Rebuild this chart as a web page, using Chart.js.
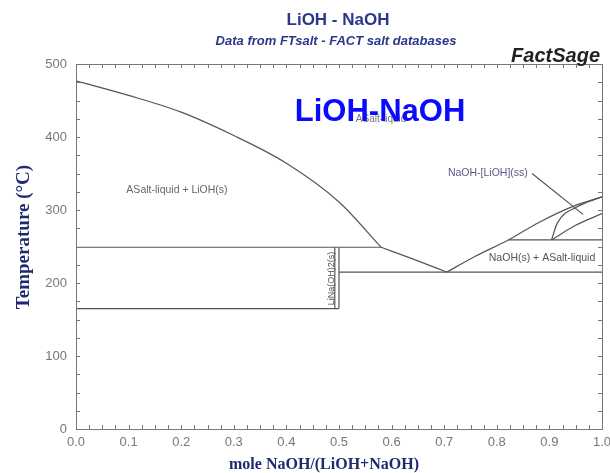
<!DOCTYPE html>
<html>
<head>
<meta charset="utf-8">
<script src="https://cdn.jsdelivr.net/npm/chart.js@4.4.1/dist/chart.umd.min.js"></script>
<style>
  body { margin: 0; background: #fff; }
  canvas { display: block; }
</style>
</head>
<body>
<canvas id="phase-chart" width="610" height="473"></canvas>
<script>
// mole fraction NaOH / temperature (C)
const liqLiOH_x = [0, 0.1, 0.2, 0.3, 0.4, 0.5, 0.58];
const liqLiOH_t = [477, 457, 434, 402, 364, 311, 249];

const liqCompound_x = [0.58, 0.64, 0.705];
const liqCompound_t = [249, 233, 215];

const liqNaOH_x = [0.705, 0.76, 0.822, 0.88, 0.945, 1.0];
const liqNaOH_t = [215, 237, 259, 283, 305, 318];

const solidus_x = [0.904, 0.915, 0.952, 1.0];
const solidus_t = [259, 282, 304, 318];

const solvus_x = [0.904, 0.95, 1.0];
const solvus_t = [259, 279, 295];

const peritectic_x = [0, 0.58];
const peritectic_t = [249, 249];

const lowLine_x = [0, 0.5];
const lowLine_t = [165, 165];

const eutectic_x = [0.5, 1.0];
const eutectic_t = [215, 215];

const ssLine_x = [0.822, 1.0];
const ssLine_t = [259, 259];

const compoundL_x = [0.492, 0.492];
const compoundR_x = [0.5, 0.5];
const compound_t = [165, 249];

const leader_x = [0.867, 0.964];
const leader_t = [350, 294];

const xTicks = ['0.0', '0.1', '0.2', '0.3', '0.4', '0.5', '0.6', '0.7', '0.8', '0.9', '1.0'];
const yTicks = ['0', '100', '200', '300', '400', '500'];

const pts = (xs, ts) => xs.map((v, i) => ({ x: v, y: ts[i] }));

const line = (xs, ts, curve) => ({
  data: pts(xs, ts),
  showLine: true,
  borderColor: '#555',
  borderWidth: 1.2,
  pointRadius: 0,
  cubicInterpolationMode: curve ? 'monotone' : 'default',
  tension: curve ? 0.4 : 0,
});

const frame = {
  id: 'frame',
  afterDatasetsDraw(chart) {
    const { ctx, chartArea: { left, right, top, bottom }, scales: { x, y } } = chart;
    ctx.save();
    ctx.strokeStyle = '#777';
    ctx.lineWidth = 1;
    ctx.strokeRect(Math.round(left) + 0.5, Math.round(top) + 0.5, Math.round(right - left), Math.round(bottom - top));
    ctx.beginPath();
    x.ticks.forEach((t) => {
      const px = Math.round(x.getPixelForValue(t.value)) + 0.5;
      ctx.moveTo(px, bottom); ctx.lineTo(px, bottom - 4);
      ctx.moveTo(px, top); ctx.lineTo(px, top + 4);
    });
    y.ticks.forEach((t) => {
      const py = Math.round(y.getPixelForValue(t.value)) + 0.5;
      ctx.moveTo(left, py); ctx.lineTo(left + 4, py);
      ctx.moveTo(right, py); ctx.lineTo(right - 4, py);
    });
    ctx.stroke();
    ctx.restore();
  }
};

const texts = {
  id: 'texts',
  afterDraw(chart) {
    const { ctx, scales: { x, y } } = chart;
    const put = (str, px, py, font, color, align) => {
      ctx.font = font;
      ctx.fillStyle = color;
      ctx.textAlign = align || 'center';
      ctx.textBaseline = 'middle';
      ctx.fillText(str, px, py);
    };
    ctx.save();
    put('LiOH - NaOH', 338, 20, 'bold 17px "Liberation Sans", Arial, sans-serif', '#2b3888');
    put('Data from FTsalt - FACT salt databases', 336, 41, 'italic bold 13px "Liberation Sans", Arial, sans-serif', '#2b3888');
    put('FactSage', 600, 56, 'italic bold 20px "Liberation Sans", Arial, sans-serif', '#222', 'right');

    put('ASalt-liquid', x.getPixelForValue(0.58), y.getPixelForValue(424), '10px "Liberation Sans", Arial, sans-serif', '#777');
    put('LiOH-NaOH', x.getPixelForValue(0.578), y.getPixelForValue(433), 'bold 31px "Liberation Sans", Arial, sans-serif', '#0a0aff');

    const small = '10.5px "Liberation Sans", Arial, sans-serif';
    put('ASalt-liquid + LiOH(s)', x.getPixelForValue(0.192), y.getPixelForValue(327), small, '#666');
    put('NaOH-[LiOH](ss)', x.getPixelForValue(0.783), y.getPixelForValue(350), small, '#5a5a88');
    put('NaOH(s) + ASalt-liquid', x.getPixelForValue(0.886), y.getPixelForValue(234), small, '#555');

    ctx.translate(x.getPixelForValue(0.485), y.getPixelForValue(206));
    ctx.rotate(-Math.PI / 2);
    put('LiNa(OH)2(s)', 0, 0, '9px "Liberation Sans", Arial, sans-serif', '#555');
    ctx.restore();

    ctx.save();
    put('mole NaOH/(LiOH+NaOH)', 324, 465, 'bold 16px "Liberation Serif", "Times New Roman", serif', '#1f2a6e');
    ctx.translate(24, 237);
    ctx.rotate(-Math.PI / 2);
    put('Temperature (°C)', 0, 0, 'bold 19px "Liberation Serif", "Times New Roman", serif', '#1f2a6e');
    ctx.restore();
  }
};

const config = {
  type: 'scatter',
  data: {
    datasets: [
      line(liqLiOH_x, liqLiOH_t, true),
      line(liqCompound_x, liqCompound_t, true),
      line(liqNaOH_x, liqNaOH_t, true),
      line(solidus_x, solidus_t, true),
      line(solvus_x, solvus_t, true),
      line(peritectic_x, peritectic_t),
      line(lowLine_x, lowLine_t),
      line(eutectic_x, eutectic_t),
      line(ssLine_x, ssLine_t),
      line(compoundL_x, compound_t),
      line(compoundR_x, compound_t),
      line(leader_x, leader_t),
    ],
  },
  options: {
    responsive: false,
    animation: false,
    layout: { padding: { top: 64, right: 8, left: 0, bottom: 0 } },
    plugins: { legend: { display: false }, tooltip: { enabled: false } },
    scales: {
      x: {
        type: 'linear',
        min: 0,
        max: 1,
        afterFit: (scale) => { scale.height = 44; scale.paddingRight = 0; },
        grid: { display: false, drawTicks: false },
        border: { display: false },
        ticks: {
          stepSize: 0.025,
          autoSkip: false,
          maxRotation: 0,
          padding: 6,
          color: '#777',
          font: { family: '"Liberation Sans", Arial, sans-serif', size: 13 },
          callback: (value) => {
            const k = Math.round(value * 40);
            return k % 4 === 0 ? xTicks[k / 4] : '';
          },
        },
      },
      y: {
        type: 'linear',
        min: 0,
        max: 500,
        afterFit: (scale) => { scale.width = 76; },
        grid: { display: false, drawTicks: false },
        border: { display: false },
        ticks: {
          stepSize: 25,
          autoSkip: false,
          padding: 9,
          color: '#777',
          font: { family: '"Liberation Sans", Arial, sans-serif', size: 13 },
          callback: (value) => {
            const k = Math.round(value / 25);
            return k % 4 === 0 ? yTicks[k / 4] : '';
          },
        },
      },
    },
  },
  plugins: [frame, texts],
};

new Chart(document.getElementById('phase-chart'), config);
</script>
</body>
</html>
